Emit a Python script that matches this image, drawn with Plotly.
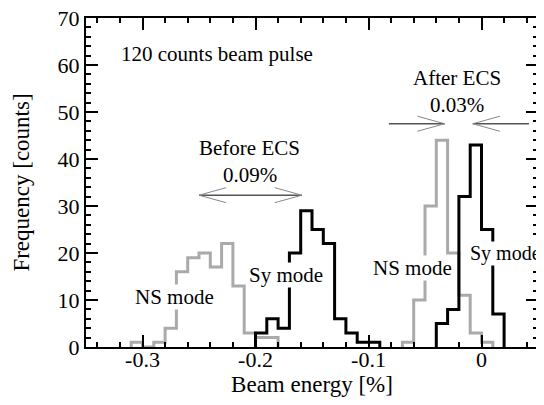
import plotly.graph_objects as go

# ---------------- data ----------------
bin_width = 0.01

ns_before_left = [-0.31, -0.30, -0.29, -0.28, -0.27, -0.26, -0.25, -0.24, -0.23, -0.22, -0.21, -0.20, -0.19]
ns_before_counts = [1, 0, 1, 4, 16, 19, 20, 17, 22, 13, 3, 2, 2]

sy_before_left = [-0.20, -0.19, -0.18, -0.17, -0.16, -0.15, -0.14, -0.13, -0.12, -0.11, -0.10]
sy_before_counts = [3, 6, 4, 20, 29, 25, 22, 6, 3, 1, 1]

ns_after_left = [-0.07, -0.06, -0.05, -0.04, -0.03, -0.02, -0.01, 0.00]
ns_after_counts = [1, 10, 30, 44, 20, 11, 3, 1]

sy_after_left = [-0.04, -0.03, -0.02, -0.01, 0.00, 0.01]
sy_after_counts = [5, 8, 32, 43, 25, 7]

x_tick_vals = [-0.3, -0.2, -0.1, 0.0]
x_tick_text = ["-0.3", "-0.2", "-0.1", "0"]
y_tick_vals = [0, 10, 20, 30, 40, 50, 60, 70]

# spread annotations (beam energy %, counts)
before_arrow = dict(x0=-0.25, x1=-0.159, y=32.3)
after_left_arrow = dict(x_from=-0.082, x_tip=-0.0327, y=47.5)
after_right_arrow = dict(x_from=0.042, x_tip=-0.0077, y=47.5)

FONT = "Liberation Serif"
GRAY = "#aaaaaa"

# The page body has an 8px default margin, so the figure is sized to fit the 544x405 window.
PAGE_OFFSET = 8


def step_xy(left, counts, w):
    xs = [left[0]] + list(left) + [left[-1] + w]
    ys = [0] + list(counts) + [0]
    return xs, ys


fig = go.Figure()
for left, counts, color in [
    (ns_before_left, ns_before_counts, GRAY),
    (ns_after_left, ns_after_counts, GRAY),
    (sy_before_left, sy_before_counts, "black"),
    (sy_after_left, sy_after_counts, "black"),
]:
    xs, ys = step_xy(left, counts, bin_width)
    fig.add_trace(go.Scatter(x=xs, y=ys, mode="lines", line=dict(color=color, width=3, shape="hv"),
                             showlegend=False, hoverinfo="skip", cliponaxis=False))

# arrows
HEAD_DX = 0.024
HEAD_DY = 1.6
shapes = []


def shaft(xa, xb, y):
    shapes.append(dict(type="line", xref="x", yref="y", x0=xa, x1=xb, y0=y, y1=y,
                       line=dict(color="#555555", width=1.5)))


def head(xtip, y, direction):
    # direction +1: pointing right, -1: pointing left
    for s in (1, -1):
        shapes.append(dict(type="line", xref="x", yref="y", x0=xtip, y0=y,
                           x1=xtip - direction * HEAD_DX, y1=y + s * HEAD_DY,
                           line=dict(color="#888888", width=1)))


shaft(before_arrow["x0"], before_arrow["x1"], before_arrow["y"])
head(before_arrow["x0"], before_arrow["y"], -1)
head(before_arrow["x1"], before_arrow["y"], 1)

shaft(after_left_arrow["x_from"], after_left_arrow["x_tip"], after_left_arrow["y"])
head(after_left_arrow["x_tip"], after_left_arrow["y"], 1)
shaft(after_right_arrow["x_from"], after_right_arrow["x_tip"], after_right_arrow["y"])
head(after_right_arrow["x_tip"], after_right_arrow["y"], -1)

ann_font = dict(family=FONT, size=21, color="black")
annotations = [
    dict(text="120 counts beam pulse", x=-0.3203, y=62.3, xanchor="left", yanchor="middle"),
    dict(text="Before ECS", x=-0.2053, y=42.4, xanchor="center", yanchor="middle"),
    dict(text="0.09%", x=-0.2053, y=36.6, xanchor="center", yanchor="middle"),
    dict(text="After ECS", x=-0.0217, y=57.2, xanchor="center", yanchor="middle"),
    dict(text="0.03%", x=-0.0217, y=51.5, xanchor="center", yanchor="middle"),
    dict(text="NS mode", x=-0.2717, y=10.6, xanchor="center", yanchor="middle", bgcolor="white"),
    dict(text="Sy mode", x=-0.1728, y=15.3, xanchor="center", yanchor="middle", bgcolor="white"),
    dict(text="NS mode", x=-0.0615, y=16.8, xanchor="center", yanchor="middle", bgcolor="white"),
    dict(text="Sy mode", x=-0.0110, y=19.9, xanchor="left", yanchor="middle", bgcolor="white"),
]
for a in annotations:
    a.update(xref="x", yref="y", showarrow=False, font=ann_font, borderpad=0)
annotations[-1]["font"] = dict(family=FONT, size=20, color="black")

axis_common = dict(
    showline=True, linecolor="black", linewidth=2, mirror="ticks",
    ticks="inside", ticklen=12, tickwidth=2, tickcolor="black",
    showgrid=False, zeroline=False, automargin=False, ticklabeloverflow="allow",
    tickfont=dict(family=FONT, size=22, color="black"),
)

fig.update_layout(
    width=544 - PAGE_OFFSET, height=405 - PAGE_OFFSET,
    margin=dict(l=86 - PAGE_OFFSET, r=6, t=18 - PAGE_OFFSET, b=58),
    paper_bgcolor="white", plot_bgcolor="white",
    shapes=shapes, annotations=annotations,
    xaxis=dict(range=[-0.35, 0.05], tickmode="array", tickvals=x_tick_vals, ticktext=x_tick_text,
               ticklabelstandoff=-8,
               minor=dict(dtick=0.02, tick0=0, ticks="inside", ticklen=5, tickwidth=2, tickcolor="black"),
               title=dict(text="Beam energy [%]", font=dict(family=FONT, size=23, color="black"),
                          standoff=2),
               **axis_common),
    yaxis=dict(range=[0, 70], tickmode="array", tickvals=y_tick_vals,
               minor=dict(dtick=2, tick0=0, ticks="inside", ticklen=5, tickwidth=2, tickcolor="black"),
               title=dict(text="Frequency [counts]", font=dict(family=FONT, size=23, color="black"),
                          standoff=22),
               **axis_common),
)

fig.write_html("out.html")
